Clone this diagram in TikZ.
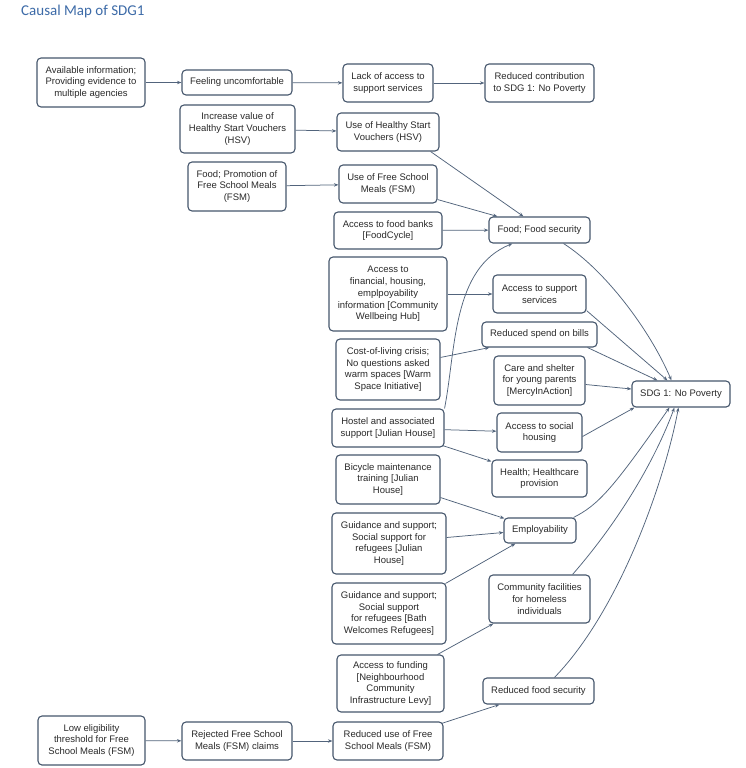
\documentclass[tikz,border=0pt]{standalone}
\usepackage{fontspec}
\setmainfont{Liberation Sans}
\newfontfamily\titlefont{Carlito}
\usetikzlibrary{arrows.meta,calc}
\definecolor{boxline}{HTML}{46576D}
\definecolor{edgecol}{HTML}{52647C}
\definecolor{txt}{HTML}{2A2A2A}
\definecolor{titleblue}{HTML}{3D6BA8}
\begin{document}
\begin{tikzpicture}[x=1pt,y=-1pt,
 box/.style={draw=boxline, line width=1.1pt, rounded corners=4pt, fill=white, align=center, inner sep=1pt, text=txt, font=\fontsize{9.5}{11.8}\selectfont},
 edge/.style={draw=edgecol, line width=0.75pt, -{Stealth[length=4.5pt,width=3.4pt]}},
]
\useasboundingbox[fill=white] (0,0) rectangle (745,768);
\node[anchor=west, font=\titlefont\fontsize{15}{18}\selectfont, text=titleblue, inner sep=0pt] (title) at (21,11.5) {Causal Map of SDG1};

\node[box, minimum width=108pt, minimum height=49pt] (avail) at (91,82.5) {Available information;\\Providing evidence to\\multiple agencies};
\node[box, minimum width=110pt, minimum height=25pt] (feel) at (237,82.5) {Feeling uncomfortable};
\node[box, minimum width=90pt, minimum height=38pt] (lack) at (388,83) {Lack of access to\\support services};
\node[box, minimum width=109pt, minimum height=38pt] (redcon) at (539.5,83) {Reduced contribution\\to SDG 1: No Poverty};
\node[box, minimum width=115pt, minimum height=48pt] (inchsv) at (237.5,129) {Increase value of\\Healthy Start Vouchers\\(HSV)};
\node[box, minimum width=102pt, minimum height=38pt] (usehsv) at (388,132) {Use of Healthy Start\\Vouchers (HSV)};
\node[box, minimum width=98pt, minimum height=49pt] (promfsm) at (237,186.5) {Food; Promotion of\\Free School Meals\\(FSM)};
\node[box, minimum width=98pt, minimum height=38pt] (usefsm) at (388,184) {Use of Free School\\Meals (FSM)};
\node[box, minimum width=108pt, minimum height=37pt] (foodbank) at (388,230.5) {Access to food banks\\{[}FoodCycle{]}};
\node[box, minimum width=101pt, minimum height=26pt] (foodsec) at (539.5,230) {Food; Food security};
\node[box, minimum width=118pt, minimum height=74pt] (fininfo) at (388,294) {Access to\\financial, housing,\\emplpoyability\\information {[}Community\\Wellbeing Hub{]}};
\node[box, minimum width=93pt, minimum height=38pt] (accsup) at (539.5,294) {Access to support\\services};
\node[box, minimum width=115pt, minimum height=25pt] (bills) at (539.5,334.5) {Reduced spend on bills};
\node[box, minimum width=104pt, minimum height=61pt] (col) at (388,369.5) {Cost-of-living crisis;\\No questions asked\\warm spaces {[}Warm\\Space Initiative{]}};
\node[box, minimum width=91pt, minimum height=49pt] (care) at (539.5,380.5) {Care and shelter\\for young parents\\{[}MercyInAction{]}};
\node[box, minimum width=98pt, minimum height=26pt] (sdg) at (681,394) {SDG 1: No Poverty};
\node[box, minimum width=112pt, minimum height=38pt] (hostel) at (388,428) {Hostel and associated\\support {[}Julian House{]}};
\node[box, minimum width=85pt, minimum height=39pt] (housing) at (539.5,432.5) {Access to social\\housing};
\node[box, minimum width=95pt, minimum height=37pt] (health) at (539.5,478.5) {Health; Healthcare\\provision};
\node[box, minimum width=104pt, minimum height=49pt] (bike) at (388,479.5) {Bicycle maintenance\\training {[}Julian\\House{]}};
\node[box, minimum width=72pt, minimum height=25pt] (employ) at (540,530.5) {Employability};
\node[box, minimum width=114pt, minimum height=61pt] (guidj) at (389,543.5) {Guidance and support;\\Social support for\\refugees {[}Julian\\House{]}};
\node[box, minimum width=114pt, minimum height=61pt] (guidb) at (389,613.5) {Guidance and support;\\Social support\\for refugees {[}Bath\\Welcomes Refugees{]}};
\node[box, minimum width=101pt, minimum height=48pt] (commfac) at (539.5,599) {Community facilities\\for homeless\\individuals};
\node[box, minimum width=107pt, minimum height=57pt] (funding) at (390.5,683.5) {Access to funding\\{[}Neighbourhood\\Community\\Infrastructure Levy{]}};
\node[box, minimum width=111pt, minimum height=26pt] (redfood) at (538.5,691) {Reduced food security};
\node[box, minimum width=107pt, minimum height=49pt] (loweli) at (91.5,740.5) {Low eligibility\\threshold for Free\\School Meals (FSM)};
\node[box, minimum width=110pt, minimum height=38pt] (rejected) at (237,741) {Rejected Free School\\Meals (FSM) claims};
\node[box, minimum width=110pt, minimum height=38pt] (reduse) at (388,741) {Reduced use of Free\\School Meals (FSM)};

% top chain
\draw[edge] (avail) -- (feel);
\draw[edge] (feel) -- (lack);
\draw[edge] (lack) -- (redcon);
\draw[edge] (inchsv) -- (usehsv);
\draw[edge] (promfsm) -- (usefsm);
\draw[edge] (foodbank) -- (foodsec);
\draw[edge] ($(usehsv.south east)+(-9,0)$) -- ($(foodsec.north west)+(35,0)$);
\draw[edge] ($(usefsm.south east)+(0,-4)$) -- ($(foodsec.north west)+(9,0)$);
\draw[edge] (fininfo) -- (accsup);
\draw[edge] ($(col.north east)+(0,19)$) -- ($(bills.south west)+(8,0)$);
\draw[edge] (hostel.north east) .. controls (456,350) and (452,268) .. ($(foodsec.south west)+(24,0)$);
\draw[edge] (hostel) -- (housing);
\draw[edge] ($(hostel.south east)+(-2,-2)$) -- ($(health.north west)+(0,2)$);
\draw[edge] ($(bike.south east)+(0,-7)$) -- ($(employ.north west)+(1,1)$);
\draw[edge] ($(guidj.east)+(0,-6)$) -- ($(employ.west)+(0,2)$);
\draw[edge] ($(guidb.north east)+(-1,1)$) -- ($(employ.south west)+(12,0)$);
\draw[edge] ($(funding.north east)+(-7,0)$) -- ($(commfac.south west)+(5,0)$);
\draw[edge] (loweli) -- (rejected);
\draw[edge] (rejected) -- (reduse);
\draw[edge] ($(reduse.north east)+(-2,2)$) -- ($(redfood.south west)+(17,0)$);

% into SDG 1
\draw[edge] ($(foodsec.south east)+(-27,0)$) .. controls (605,270) and (650,330) .. ($(sdg.north west)+(40,0)$);
\draw[edge] ($(accsup.south east)+(0,-3)$) -- ($(sdg.north west)+(36,0)$);
\draw[edge] ($(bills.south east)+(-10,0)$) -- ($(sdg.north west)+(26,0)$);
\draw[edge] ($(care.east)+(0,4)$) -- ($(sdg.west)+(0,-5)$);
\draw[edge] ($(housing.east)+(0,4)$) -- ($(sdg.south west)+(3,0)$);
\draw[edge] ($(employ.north east)+(-3,0)$) .. controls (598,505) and (612,490) .. ($(sdg.south west)+(38,0)$);
\draw[edge] ($(commfac.north east)+(-18,0)$) .. controls (620,520) and (655,460) .. ($(sdg.south west)+(43,0)$);
\draw[edge] ($(redfood.north west)+(72,0)$) .. controls (620,610) and (665,480) .. ($(sdg.south west)+(47,0)$);
\end{tikzpicture}
\end{document}
